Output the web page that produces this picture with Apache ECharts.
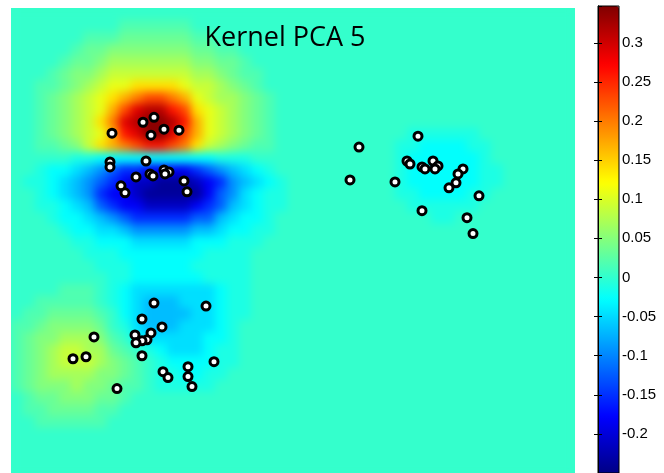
<!DOCTYPE html>
<html>
<head>
<meta charset="utf-8">
<script src="https://cdn.jsdelivr.net/npm/echarts@6/dist/echarts.min.js"></script>
<style>
  html, body { margin: 0; padding: 0; background: #fff; }
  #wrap { position: relative; width: 664px; height: 473px; overflow: hidden; }
  #clip { position: absolute; left: 11px; top: 8px; width: 564px; height: 468px; overflow: hidden; background: #35ffca; }
  #field { position: absolute; left: 0; top: 0; width: 564px; height: 468px; filter: blur(4px); }
  #chart { position: absolute; left: 0; top: 0; width: 664px; height: 473px; }
</style>
</head>
<body>
<div id="wrap">
  <div id="clip"><div id="field"></div></div>
  <div id="chart"></div>
</div>
<script>
// colour range of the colorbar
var colorMin = -0.25;
var colorMax = 0.347;
var colorTicks = [-0.2, -0.15, -0.1, -0.05, 0, 0.05, 0.1, 0.15, 0.2, 0.25, 0.3];
var jet = ['#000080', '#0000ff', '#0080ff', '#00ffff', '#80ff80', '#ffff00', '#ff8000', '#ff0000', '#800000'];

// contour level of each letter in the field grid
var levelKeys = 'ABCDEFGHIJ.abcdefghijklmn';
var levelValues = [-0.235, -0.21, -0.18, -0.15, -0.12, -0.09, -0.065, -0.045, -0.025, -0.01,
    0.004,
    0.02, 0.035, 0.05, 0.07, 0.09, 0.11, 0.14, 0.17, 0.2, 0.23, 0.26, 0.29, 0.315, 0.34];

// projection on component 5, 47 columns x 39 rows (top row first)
var fieldCols = 47;
var fieldRows = [
    '',
    '.........aaaaaa',
    '......aaabbbbbbaa',
    '.....abbcccccccbbaa',
    '....abbcdddddddccbba',
    '...abccdeeeeeeeddcbaa',
    '..aabcdeffggggfeedcba',
    '..abcdefghijjihfeddcba',
    '..abcdefhjlmmkjgfedcba',
    '..abcdegilmnnmkhfedcba',
    '..abcdefhklnnljhfedcba...........JJJJJJ',
    '..aabceghijkkjigedcbaa..........JJIIIIJJ',
    '.....JJIIIIIIIIIIJJJ............JIIIIIIJ',
    '..JIIHGFEDDCCCCDEFGHIJ..........JIIIIIIJJ',
    '.JJIHGFEDCBBAAABCDFGHIJ.........JIIIIIIJJ',
    '..JIHGFDCCBAAAAACEFHIJJ.........JJIIIIJJ',
    '..JJIHGEDCCBBBBCDEGHIJJ..........JJJJJJ',
    '...JIIHGFEDDDDDEEGHIIJ.............JJ',
    '....JIIHHGFFFFFGGHIIJJ',
    '.....JJIIIHHHHHIIIJJJ',
    '......JJJIIIIIIIJJJJ',
    '.......JJJIIIIIJJJJJ',
    '........JJIIIIIIJJJJ',
    '....aaa.JIHHHHHHHIJJ',
    '..aaaaa.JIHGGGHHHIJJ',
    '.aabbbba.IHGGGGHHIJJ',
    'aabccccb.JHGGGHHHIJ',
    'abccdddca.IHHHHHIIJ',
    'abcdeeddba.JIHHHIJJ',
    'abcdeeedcba.JIIIIJJ',
    'abcddddccba.JJIIJJ',
    'abcccdccbaa.JJJJJ',
    '.abbcccbba',
    '.aabbbbaa',
    '..aaaaaa',
    '',
    '',
    '',
    ''
];

// samples (x, y) in plot units, y measured downwards
var pointsX = [101, 132, 143, 140, 153, 168,
    99, 99, 135, 125, 139, 142, 153, 158, 154, 173, 176, 110, 114,
    407, 348, 339, 384, 396, 399, 411, 414, 422, 427, 424, 452, 447, 445, 438, 468, 411, 456, 462,
    143, 195, 131, 151, 83, 124, 140, 136, 131, 125, 131, 75, 62, 203, 152, 157, 177, 177, 181, 106];
var pointsY = [126, 115, 110, 128, 122, 123,
    155, 160, 154, 170, 167, 169, 163, 165, 167, 174, 185, 179, 186,
    129, 140, 173, 175, 154, 157, 160, 162, 154, 159, 162, 162, 167, 176, 181, 189, 204, 211, 227,
    297, 300, 313, 321, 331, 329, 327, 334, 335, 337, 350, 351, 353, 356, 366, 372, 361, 371, 381, 383];

var colIdx = [];
var rowIdx = [];
var fieldData = [];
fieldRows.forEach(function (row, r) {
    rowIdx.push(r);
    var line = row.padEnd(fieldCols, '.').slice(0, fieldCols);
    for (var c = 0; c < fieldCols; c++) {
        fieldData.push([c, r, levelValues[levelKeys.indexOf(line[c])]]);
    }
});
for (var c = 0; c < fieldCols; c++) {
    colIdx.push(c);
}

var field = echarts.init(document.getElementById('field'));
field.setOption({
    animation: false,
    grid: { left: 0, right: 0, top: 0, bottom: 0 },
    xAxis: { type: 'category', data: colIdx, show: false },
    yAxis: { type: 'category', data: rowIdx, inverse: true, show: false },
    visualMap: { show: false, min: colorMin, max: colorMax, dimension: 2, inRange: { color: jet } },
    series: [{ type: 'heatmap', data: fieldData, itemStyle: { borderWidth: 0 } }]
});

var points = pointsX.map(function (x, i) { return [x, pointsY[i]]; });
var tickFont = { fontFamily: 'Liberation Sans, Arial, sans-serif', fontSize: 15, color: '#000' };

var chart = echarts.init(document.getElementById('chart'));
chart.setOption({
    animation: false,
    title: {
        text: 'Kernel PCA 5', left: 285, top: 25, padding: 0, textAlign: 'center',
        textStyle: { fontFamily: 'Open Sans', fontSize: 27, fontWeight: 'normal', color: '#000' }
    },
    grid: [
        { left: 11, top: 8, width: 564, height: 468 },
        { left: 598, top: 6, width: 21, height: 469.6, show: true, borderColor: '#000', borderWidth: 1, z: 5 }
    ],
    xAxis: [
        { gridIndex: 0, type: 'value', min: 0, max: 564, show: false },
        { gridIndex: 1, type: 'value', min: 0, max: 1, show: false }
    ],
    yAxis: [
        { gridIndex: 0, type: 'value', min: 0, max: 468, inverse: true, show: false },
        {
            gridIndex: 1, type: 'value', min: colorMin, max: colorMax, interval: 0.05, position: 'right', z: 5,
            axisLine: { show: true, lineStyle: { color: '#000', width: 1 } },
            axisTick: { show: true, inside: true, length: 4, lineStyle: { color: '#000' } },
            splitLine: { show: false },
            axisLabel: Object.assign({
                margin: 3, showMinLabel: false, showMaxLabel: false,
                formatter: function (v) {
                    var t = Math.round(v * 100) / 100;
                    return colorTicks.indexOf(t) >= 0 ? String(t) : '';
                }
            }, tickFont)
        },
        {
            gridIndex: 1, type: 'value', min: colorMin, max: colorMax, interval: 0.05, position: 'left', z: 5,
            axisLine: { show: true, lineStyle: { color: '#000', width: 1 } },
            axisTick: { show: true, inside: true, length: 4, lineStyle: { color: '#000' } },
            splitLine: { show: false },
            axisLabel: { show: false }
        }
    ],
    visualMap: {
        type: 'continuous', show: true, min: colorMin, max: colorMax, seriesIndex: 1,
        left: 598, top: 6, itemWidth: 21, itemHeight: 469.6, padding: 0,
        calculable: false, hoverLink: false, z: 1,
        inRange: { color: jet }
    },
    series: [
        {
            type: 'scatter', xAxisIndex: 0, yAxisIndex: 0, data: points, symbolSize: 8,
            itemStyle: { color: '#fff', borderColor: '#000', borderWidth: 3, opacity: 1 }, z: 3
        },
        { type: 'line', xAxisIndex: 1, yAxisIndex: 1, data: [] }
    ]
});
</script>
</body>
</html>
